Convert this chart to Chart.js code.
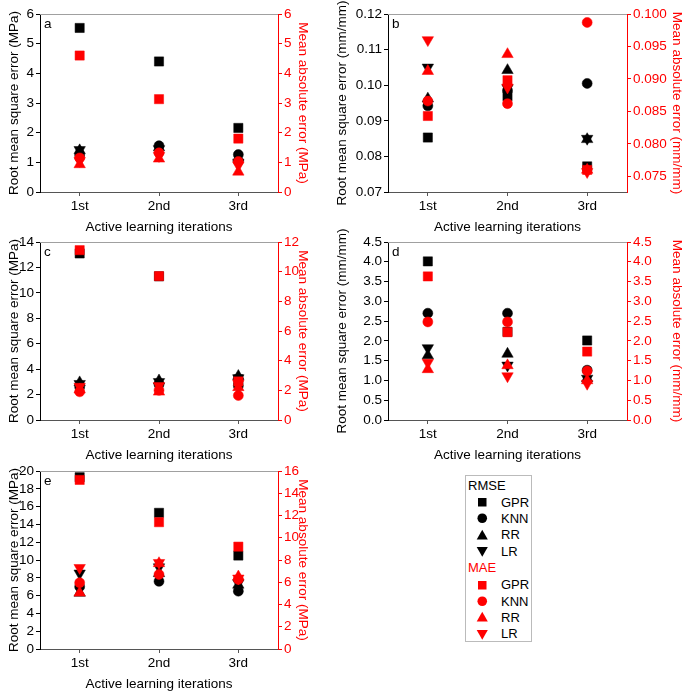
<!DOCTYPE html>
<html>
<head>
<meta charset="utf-8">
<title>Active learning errors</title>
<script src="https://cdn.jsdelivr.net/npm/chart.js@4.4.0/dist/chart.umd.min.js"></script>
<style>
  html, body { margin: 0; padding: 0; background: #fff; overflow: hidden; }
  body { width: 685px; height: 692px; position: relative; font-family: 'Liberation Sans', Arial, sans-serif; }
  canvas { position: absolute; }
  #legend { position: absolute; left: 465px; top: 475px; width: 67px; height: 167px;
            border: 1px solid #bbb; box-sizing: border-box; font-size: 13px; }
  #legend div, #legend svg { position: absolute; line-height: 15px; white-space: nowrap; }
</style>
</head>
<body>
<canvas id="chartA" width="330" height="236" style="left:0;top:0"></canvas>
<canvas id="chartB" width="355" height="236" style="left:330px;top:0"></canvas>
<canvas id="chartC" width="330" height="236" style="left:0;top:228px"></canvas>
<canvas id="chartD" width="355" height="236" style="left:330px;top:228px"></canvas>
<canvas id="chartE" width="330" height="236" style="left:0;top:457px"></canvas>
<div id="legend"></div>

<script>
// categories and series (order of rows: GPR, KNN, RR, LR)
const iterations = ['1st', '2nd', '3rd'];
const models = ['GPR', 'KNN', 'RR', 'LR'];

const rmseA = [[5.53, 4.40, 2.16], [1.25, 1.56, 1.26], [1.40, 1.50, 1.15], [1.42, 1.45, 1.00]];
const maeA  = [[4.60, 3.13, 1.80], [1.15, 1.32, 1.03], [0.93, 1.12, 0.68], [1.05, 1.22, 0.90]];

const rmseB = [[0.0853, 0.0969, 0.0772], [0.0942, 0.0985, 0.1005], [0.0962, 0.1042, 0.0848], [0.1050, 0.0992, 0.0850]];
const maeB  = [[0.0843, 0.0898, 0.0760], [0.0866, 0.0862, 0.0987], [0.0912, 0.0938, 0.0760], [0.0960, 0.0887, 0.0757]];

const rmseC = [[13.1, 11.3, 3.2], [2.6, 2.8, 2.7], [2.95, 3.1, 3.45], [2.85, 3.0, 3.3]];
const maeC  = [[11.45, 9.7, 2.6], [1.9, 2.0, 1.65], [2.05, 1.9, 2.2], [2.25, 2.3, 2.45]];

const rmseD = [[4.01, 2.23, 2.01], [2.70, 2.70, 1.26], [1.63, 1.67, 1.05], [1.82, 1.38, 1.05]];
const maeD  = [[3.63, 2.22, 1.73], [2.48, 2.48, 1.24], [1.28, 1.38, 1.00], [1.45, 1.11, 0.92]];

const rmseE = [[19.3, 15.3, 10.5], [7.0, 7.6, 6.5], [6.3, 8.5, 7.2], [8.5, 9.2, 7.4]];
const maeE  = [[15.2, 11.4, 9.2], [5.95, 6.7, 6.25], [5.05, 7.7, 6.5], [7.3, 7.75, 6.35]];

// tick labels
const ticksA = [0, 1, 2, 3, 4, 5, 6];
const ticksBLeft = [0.07, 0.08, 0.09, 0.10, 0.11, 0.12];
const ticksBRight = [0.075, 0.080, 0.085, 0.090, 0.095, 0.100];
const ticksCLeft = [0, 2, 4, 6, 8, 10, 12, 14];
const ticksCRight = [0, 2, 4, 6, 8, 10, 12];
const ticksD = [0, 0.5, 1.0, 1.5, 2.0, 2.5, 3.0, 3.5, 4.0, 4.5];
const ticksELeft = [0, 2, 4, 6, 8, 10, 12, 14, 16, 18, 20];
const ticksERight = [0, 2, 4, 6, 8, 10, 12, 14, 16];

const RED = '#ff0000';
const BLACK = '#000000';
const font = { family: "'Liberation Sans', Arial, sans-serif", size: 13.5 };

Chart.defaults.font = font;
Chart.defaults.color = BLACK;

// marker shapes for GPR, KNN, RR, LR
const markerStyle = [
  { pointStyle: 'rect', radius: 6.5, rotation: 0 },
  { pointStyle: 'circle', radius: 5, rotation: 0 },
  { pointStyle: 'triangle', radius: 6.6, rotation: 0 },
  { pointStyle: 'triangle', radius: 6.6, rotation: 180 }
];

// light frame line along the top of the plot area + the panel letter
const framePlugin = {
  id: 'frame',
  beforeDatasetsDraw(chart) {
    const { ctx, chartArea: a } = chart;
    ctx.save();
    ctx.strokeStyle = '#a0a0a0';
    ctx.lineWidth = 1;
    ctx.beginPath();
    ctx.moveTo(a.left, a.top + 0.5);
    ctx.lineTo(a.right, a.top + 0.5);
    ctx.stroke();
    ctx.fillStyle = BLACK;
    ctx.font = "13.5px 'Liberation Sans', Arial, sans-serif";
    ctx.textBaseline = 'middle';
    ctx.fillText(chart.options.plugins.frame.letter, a.left + 4, a.top + 10);
    ctx.restore();
  }
};

function yAxis(position, color, min, max, ticks, digits, title, width, titlePad) {
  return {
    type: 'linear',
    position: position,
    min: min,
    max: max,
    afterBuildTicks: s => { s.ticks = ticks.map(v => ({ value: v })); },
    afterFit: s => { s.width = width; },
    ticks: { color: color, padding: 2, autoSkip: false, callback: v => v.toFixed(digits) },
    grid: { drawOnChartArea: false, tickLength: 4, color: color },
    border: { color: color, width: 1 },
    title: { display: true, text: title, color: color, padding: { top: titlePad, bottom: 0 } }
  };
}

// red MAE marks sit on top of the black RMSE marks
function makeDatasets(rmse, mae) {
  const sets = [];
  rmse.forEach((vals, i) => sets.push(series(models[i], vals, BLACK, 'y', i, 2)));
  mae.forEach((vals, i) => sets.push(series(models[i], vals, RED, 'y1', i, 1)));
  return sets;
}

function series(label, vals, color, axis, i, order) {
  const m = markerStyle[i];
  return {
    label: label,
    data: vals,
    yAxisID: axis,
    order: order,
    showLine: false,
    clip: false,
    pointStyle: m.pointStyle,
    pointRadius: m.radius,
    pointRotation: m.rotation,
    pointBackgroundColor: color,
    pointBorderColor: color,
    pointBorderWidth: 0.5
  };
}

function drawPanel(id, letter, rmse, mae, left, right, sideW) {
  new Chart(document.getElementById(id), {
    type: 'line',
    data: { labels: iterations, datasets: makeDatasets(rmse, mae) },
    plugins: [framePlugin],
    options: {
      responsive: false,
      animation: false,
      devicePixelRatio: 1,
      layout: { padding: { top: 14, left: 0, right: 0, bottom: 0 } },
      plugins: { legend: { display: false }, tooltip: { enabled: false }, frame: { letter: letter } },
      scales: {
        x: {
          type: 'category',
          offset: true,
          afterFit: s => { s.height = 44; },
          ticks: { color: BLACK, padding: 2 },
          grid: { drawOnChartArea: false, tickLength: 4, color: '#555' },
          border: { color: '#555' },
          title: { display: true, text: 'Active learning iterations', color: BLACK, padding: { top: 0, bottom: 1 } }
        },
        y: yAxis('left', BLACK, left.min, left.max, left.ticks, left.digits, left.title, sideW[0], sideW[1]),
        y1: yAxis('right', RED, right.min, right.max, right.ticks, right.digits, right.title, sideW[2], sideW[3])
      }
    }
  });
}

const mpaLeft = 'Root mean square error (MPa)';
const mpaRight = 'Mean absolute error (MPa)';
const mmLeft = 'Root mean square error (mm/mm)';
const mmRight = 'Mean absolute error (mm/mm)';

drawPanel('chartA', 'a', rmseA, maeA,
  { min: 0, max: 6, ticks: ticksA, digits: 0, title: mpaLeft },
  { min: 0, max: 6, ticks: ticksA, digits: 0, title: mpaRight },
  [40, 6.5, 52, 19.5]);

drawPanel('chartB', 'b', rmseB, maeB,
  { min: 0.07, max: 0.12, ticks: ticksBLeft, digits: 2, title: mmLeft },
  { min: 0.0726, max: 0.1, ticks: ticksBRight, digits: 3, title: mmRight },
  [58, 4.5, 58, 0]);

drawPanel('chartC', 'c', rmseC, maeC,
  { min: 0, max: 14, ticks: ticksCLeft, digits: 0, title: mpaLeft },
  { min: 0, max: 12, ticks: ticksCRight, digits: 0, title: mpaRight },
  [40, 6.5, 52, 19.5]);

drawPanel('chartD', 'd', rmseD, maeD,
  { min: 0, max: 4.5, ticks: ticksD, digits: 1, title: mmLeft },
  { min: 0, max: 4.5, ticks: ticksD, digits: 1, title: mmRight },
  [58, 4.5, 58, 0]);

drawPanel('chartE', 'e', rmseE, maeE,
  { min: 0, max: 20, ticks: ticksELeft, digits: 0, title: mpaLeft },
  { min: 0, max: 16, ticks: ticksERight, digits: 0, title: mpaRight },
  [40, 6.5, 52, 19.5]);

// legend box
const legend = document.getElementById('legend');
function symbolSvg(i, color) {
  const shapes = [
    '<rect x="2" y="2" width="8.5" height="8.5"/>',
    '<circle cx="6.25" cy="6.25" r="4.8"/>',
    '<polygon points="6.25,0.8 11.8,10.6 0.7,10.6"/>',
    '<polygon points="0.7,1.9 11.8,1.9 6.25,11.7"/>'
  ];
  return '<svg width="12.5" height="12.5" fill="' + color + '">' + shapes[i] + '</svg>';
}
function addGroup(name, color, headY, rowYs) {
  const head = document.createElement('div');
  head.textContent = name;
  head.style.cssText = 'left:2px;top:' + (headY - 8) + 'px;color:' + color;
  legend.appendChild(head);
  models.forEach((m, i) => {
    legend.insertAdjacentHTML('beforeend', symbolSvg(i, color).replace('<svg', '<svg style="left:10px;top:' + (rowYs[i] - 6.5) + 'px"'));
    const lab = document.createElement('div');
    lab.textContent = m;
    lab.style.cssText = 'left:35px;top:' + (rowYs[i] - 8) + 'px;color:' + BLACK;
    legend.appendChild(lab);
  });
}
addGroup('RMSE', BLACK, 10, [26.5, 42.5, 59, 75.5]);
addGroup('MAE', RED, 91.5, [109, 125.5, 141.5, 158]);
</script>
</body>
</html>
